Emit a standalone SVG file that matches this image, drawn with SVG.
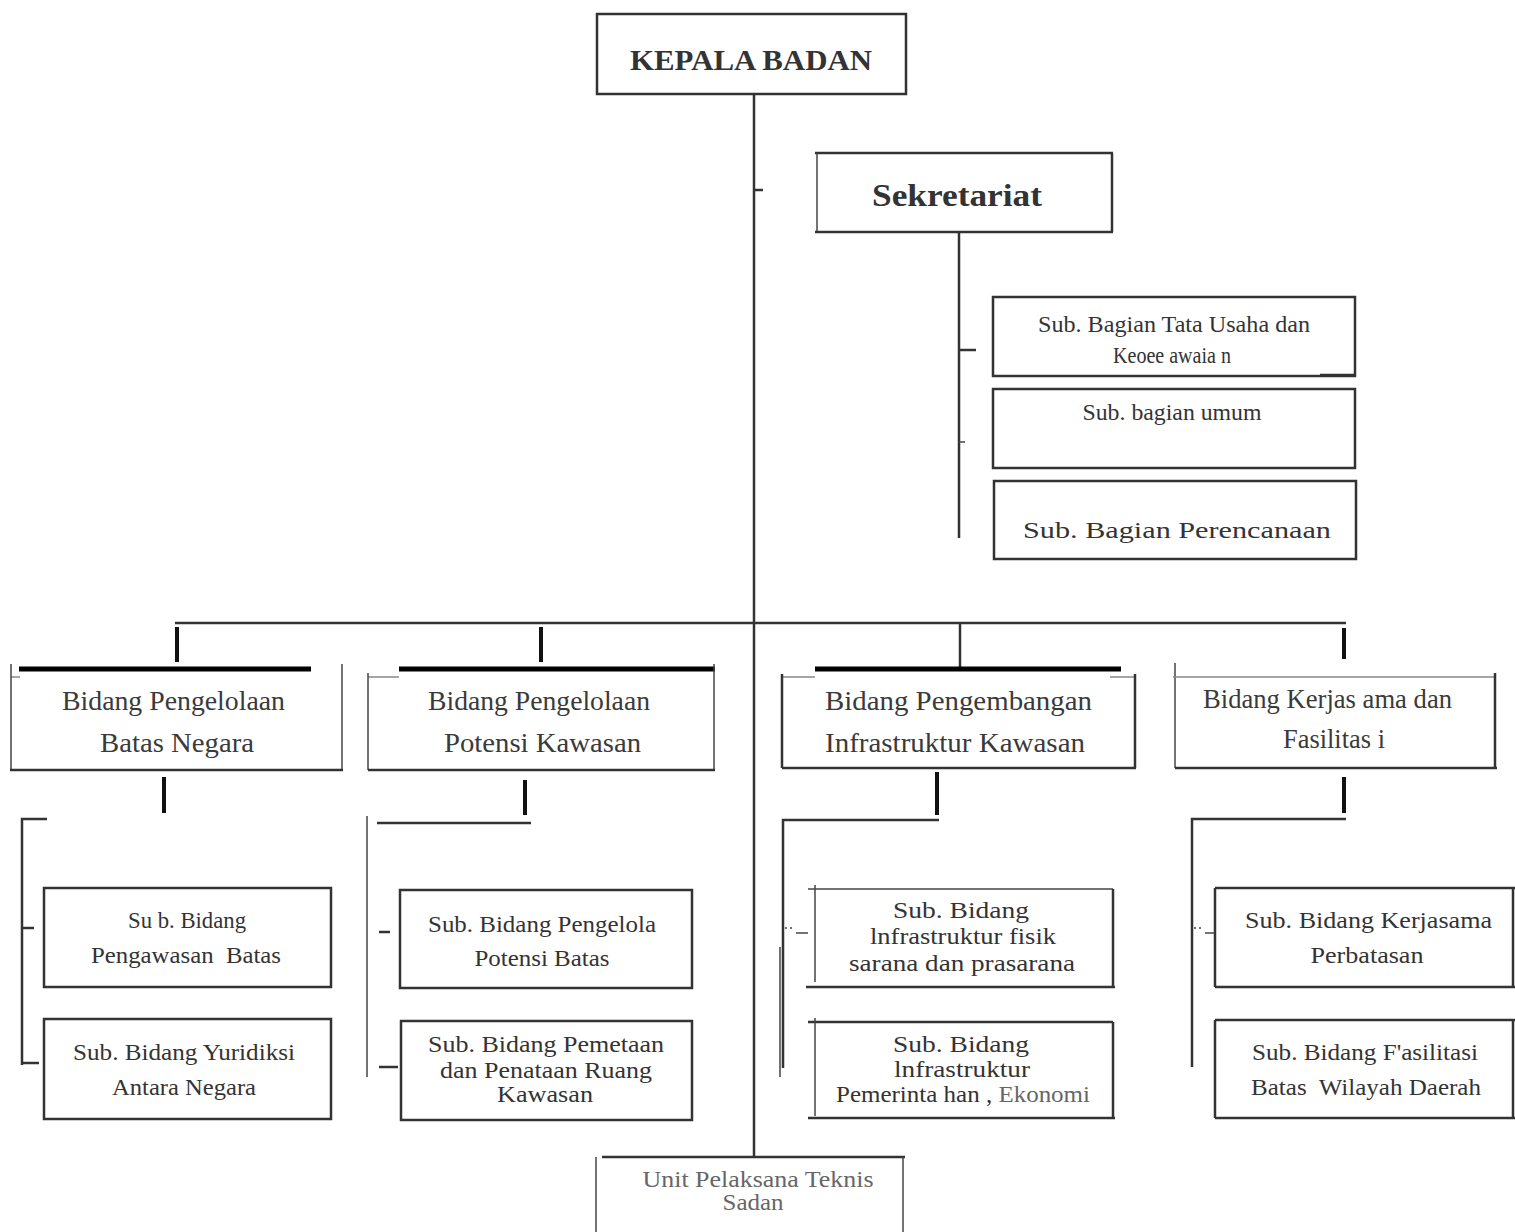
<svg xmlns="http://www.w3.org/2000/svg" width="1515" height="1232" viewBox="0 0 1515 1232">
<style>
.bg{fill:#fff}
.b{fill:none;stroke:#333;stroke-width:2.5}
.bt{fill:none;stroke:#444;stroke-width:1.5}
.g{fill:none;stroke:#888;stroke-width:1.5}
.k{fill:none;stroke:#000;stroke-width:5}
.c{fill:none;stroke:#333;stroke-width:2.5}
.ck{fill:none;stroke:#111;stroke-width:4}
.ct{fill:none;stroke:#444;stroke-width:1.5}
text{font-family:"Liberation Serif","Times New Roman",serif;fill:#333}
.h{font-weight:bold;fill:#333}
.bid{font-size:27px;fill:#3a3a3a}
.sub{font-size:24px;fill:#333}
.lt{fill:#666}
</style>
<rect class="bg" x="0" y="0" width="1515" height="1232"/>

<g id="connectors">
  <!-- main trunk -->
  <line class="c" x1="754" y1="95" x2="754" y2="1157" stroke-width="3"/>
  <line class="c" x1="754" y1="190" x2="763" y2="190"/>
  <!-- sekretariat branch -->
  <line class="c" x1="959" y1="232" x2="959" y2="538" stroke-width="2"/>
  <line class="c" x1="959" y1="350" x2="976" y2="350" stroke-width="4"/>
  <line class="ct" x1="959" y1="442" x2="965" y2="442"/>
  <!-- bus -->
  <line class="c" x1="175" y1="623" x2="1346" y2="623" stroke-width="3"/>
  <line class="ck" x1="177" y1="627" x2="177" y2="662"/>
  <line class="ck" x1="541" y1="627" x2="541" y2="662"/>
  <line class="c" x1="960" y1="623" x2="960" y2="667"/>
  <line class="ck" x1="1344" y1="628" x2="1344" y2="659"/>
  <!-- drops below bidang -->
  <line class="ck" x1="164" y1="777" x2="164" y2="813"/>
  <line class="ck" x1="525" y1="780" x2="525" y2="815"/>
  <line class="ck" x1="937" y1="772" x2="937" y2="815"/>
  <line class="ck" x1="1344" y1="777" x2="1344" y2="813"/>
  <!-- group 1 -->
  <polyline class="c" points="47,819 22,819 22,1065" stroke-width="2"/>
  <line class="c" x1="22" y1="928" x2="34" y2="928" stroke-width="3"/>
  <line class="c" x1="22" y1="1063" x2="39" y2="1063" stroke-width="5"/>
  <!-- group 2 -->
  <line class="ct" x1="367" y1="816" x2="367" y2="1077"/>
  <line class="c" x1="377" y1="823" x2="531" y2="823" stroke-width="4" stroke="#444"/>
  <line class="c" x1="379" y1="932" x2="390" y2="932" stroke-width="3" stroke="#111"/>
  <line class="c" x1="379" y1="1067" x2="398" y2="1067" stroke-width="5"/>
  <!-- group 3 -->
  <polyline class="c" points="939,820 783,820 783,1068" stroke-width="2"/>
  <line class="ct" x1="780" y1="947" x2="780" y2="1077"/>
  <line class="ct" x1="785" y1="928" x2="795" y2="928" stroke-dasharray="2,3"/>
  <line class="ct" x1="796" y1="933" x2="808" y2="933"/>
  <!-- group 4 -->
  <polyline class="c" points="1346,819 1192,819 1192,1067" stroke-width="2"/>
  <line class="ct" x1="1194" y1="928" x2="1204" y2="928" stroke-dasharray="2,3"/>
  <line class="ct" x1="1205" y1="933" x2="1216" y2="933"/>
</g>

<g id="kepala-badan">
  <rect class="b" x="597" y="14" width="309" height="80"/>
  <text class="h" x="751" y="70" font-size="30" text-anchor="middle" textLength="242" lengthAdjust="spacingAndGlyphs">KEPALA BADAN</text>
</g>

<g id="sekretariat">
  <line class="b" x1="815" y1="153" x2="1113" y2="153" stroke-width="3"/>
  <line class="bt" x1="817" y1="153" x2="817" y2="232"/>
  <line class="b" x1="1112" y1="153" x2="1112" y2="232"/>
  <line class="b" x1="815" y1="232" x2="1113" y2="232" stroke-width="3.5"/>
  <text class="h" x="957" y="206" font-size="31" text-anchor="middle" textLength="170" lengthAdjust="spacingAndGlyphs">Sekretariat</text>
</g>

<g id="sub-bagian-tu">
  <rect class="b" x="993" y="297" width="362" height="79" stroke-width="2"/>
  <line class="b" x1="1320" y1="375" x2="1355" y2="375" stroke-width="3"/>
  <text class="sub" x="1174" y="332" textLength="272" lengthAdjust="spacingAndGlyphs" text-anchor="middle">Sub. Bagian Tata Usaha dan</text>
  <text class="sub" x="1172" y="363" font-size="19" textLength="118" lengthAdjust="spacingAndGlyphs" text-anchor="middle">Keoee awaia n</text>
</g>

<g id="sub-bagian-umum">
  <rect class="b" x="993" y="389" width="362" height="79" stroke-width="2"/>
  <text class="sub" x="1172" y="420" textLength="179" lengthAdjust="spacingAndGlyphs" text-anchor="middle">Sub. bagian umum</text>
</g>

<g id="sub-bagian-perencanaan">
  <rect class="b" x="994" y="481" width="362" height="78" stroke-width="2"/>
  <text class="sub" x="1177" y="538" font-size="27" textLength="308" lengthAdjust="spacingAndGlyphs" text-anchor="middle">Sub. Bagian Perencanaan</text>
</g>

<g id="bidang-batas-negara">
  <line class="k" x1="19" y1="669" x2="311" y2="669"/>
  <line class="g" x1="11" y1="677" x2="20" y2="677"/>
  <line class="bt" x1="11" y1="664" x2="11" y2="770"/>
  <line class="bt" x1="342" y1="664" x2="342" y2="770"/>
  <line class="b" x1="10" y1="770" x2="343" y2="770"/>
  <text class="bid" x="62" y="710" textLength="223" lengthAdjust="spacingAndGlyphs">Bidang Pengelolaan</text>
  <text class="bid" x="100" y="752" textLength="154" lengthAdjust="spacingAndGlyphs">Batas Negara</text>
</g>

<g id="bidang-potensi-kawasan">
  <line class="k" x1="399" y1="669" x2="715" y2="669"/>
  <line class="g" x1="368" y1="677" x2="399" y2="677"/>
  <line class="bt" x1="368" y1="673" x2="368" y2="770"/>
  <line class="bt" x1="714" y1="664" x2="714" y2="770"/>
  <line class="b" x1="368" y1="770" x2="715" y2="770"/>
  <text class="bid" x="428" y="710" textLength="222" lengthAdjust="spacingAndGlyphs">Bidang Pengelolaan</text>
  <text class="bid" x="444" y="752" textLength="197" lengthAdjust="spacingAndGlyphs">Potensi Kawasan</text>
</g>

<g id="bidang-infrastruktur">
  <line class="k" x1="815" y1="669" x2="1121" y2="669"/>
  <line class="g" x1="782" y1="677" x2="815" y2="677"/>
  <line class="g" x1="1110" y1="677" x2="1135" y2="677"/>
  <line class="b" x1="782" y1="674" x2="782" y2="768"/>
  <line class="b" x1="1135" y1="674" x2="1135" y2="768"/>
  <line class="b" x1="782" y1="768" x2="1136" y2="768"/>
  <text class="bid" x="825" y="710" textLength="267" lengthAdjust="spacingAndGlyphs">Bidang Pengembangan</text>
  <text class="bid" x="825" y="752" textLength="260" lengthAdjust="spacingAndGlyphs">Infrastruktur Kawasan</text>
</g>

<g id="bidang-kerjasama">
  <line class="bt" x1="1175" y1="663" x2="1175" y2="768"/>
  <line class="g" x1="1173" y1="677" x2="1495" y2="677"/>
  <line class="b" x1="1495" y1="673" x2="1495" y2="768"/>
  <line class="b" x1="1175" y1="768" x2="1497" y2="768" stroke-width="2"/>
  <text class="bid" x="1203" y="708" textLength="249" lengthAdjust="spacingAndGlyphs">Bidang Kerjas ama dan</text>
  <text class="bid" x="1283" y="748" textLength="102" lengthAdjust="spacingAndGlyphs">Fasilitas i</text>
</g>

<g id="sub-pengawasan-batas">
  <rect class="b" x="44" y="888" width="287" height="99"/>
  <text class="sub" x="187" y="928" text-anchor="middle" textLength="118" lengthAdjust="spacingAndGlyphs">Su b. Bidang</text>
  <text class="sub" x="186" y="963" text-anchor="middle" xml:space="preserve" textLength="190" lengthAdjust="spacingAndGlyphs">Pengawasan  Batas</text>
</g>

<g id="sub-yuridiksi">
  <rect class="b" x="44" y="1019" width="287" height="100"/>
  <text class="sub" x="184" y="1060" text-anchor="middle" textLength="222" lengthAdjust="spacingAndGlyphs">Sub. Bidang Yuridiksi</text>
  <text class="sub" x="184" y="1095" text-anchor="middle" textLength="144" lengthAdjust="spacingAndGlyphs">Antara Negara</text>
</g>

<g id="sub-pengelola-potensi">
  <rect class="b" x="400" y="890" width="292" height="98"/>
  <text class="sub" x="542" y="932" text-anchor="middle" textLength="228" lengthAdjust="spacingAndGlyphs">Sub. Bidang Pengelola</text>
  <text class="sub" x="542" y="966" text-anchor="middle" textLength="135" lengthAdjust="spacingAndGlyphs">Potensi Batas</text>
</g>

<g id="sub-pemetaan">
  <rect class="b" x="401" y="1021" width="291" height="99"/>
  <text class="sub" x="546" y="1052" text-anchor="middle" textLength="236" lengthAdjust="spacingAndGlyphs">Sub. Bidang Pemetaan</text>
  <text class="sub" x="546" y="1078" text-anchor="middle" textLength="212" lengthAdjust="spacingAndGlyphs">dan Penataan Ruang</text>
  <text class="sub" x="545" y="1102" text-anchor="middle" textLength="96" lengthAdjust="spacingAndGlyphs">Kawasan</text>
</g>

<g id="sub-infrastruktur-fisik">
  <line class="bt" x1="808" y1="889" x2="1113" y2="889"/>
  <line class="bt" x1="815" y1="885" x2="815" y2="982"/>
  <line class="b" x1="1113" y1="889" x2="1113" y2="987"/>
  <line class="b" x1="806" y1="987" x2="1115" y2="987"/>
  <text class="sub" x="961" y="918" text-anchor="middle" textLength="136" lengthAdjust="spacingAndGlyphs">Sub. Bidang</text>
  <text class="sub" x="963" y="944" text-anchor="middle" textLength="186" lengthAdjust="spacingAndGlyphs">lnfrastruktur fisik</text>
  <text class="sub" x="962" y="971" text-anchor="middle" textLength="226" lengthAdjust="spacingAndGlyphs">sarana dan prasarana</text>
</g>

<g id="sub-infrastruktur-pemerintahan">
  <line class="b" x1="808" y1="1022" x2="1113" y2="1022" stroke-width="2"/>
  <line class="bt" x1="815" y1="1018" x2="815" y2="1116"/>
  <line class="b" x1="1113" y1="1022" x2="1113" y2="1118"/>
  <line class="b" x1="808" y1="1118" x2="1115" y2="1118"/>
  <text class="sub" x="961" y="1052" text-anchor="middle" textLength="136" lengthAdjust="spacingAndGlyphs">Sub. Bidang</text>
  <text class="sub" x="962" y="1077" text-anchor="middle" textLength="136" lengthAdjust="spacingAndGlyphs">lnfrastruktur</text>
  <text class="sub" x="836" y="1102" textLength="254" lengthAdjust="spacingAndGlyphs">Pemerinta han , <tspan class="lt">Ekonomi</tspan></text>
</g>

<g id="sub-kerjasama-perbatasan">
  <line class="b" x1="1215" y1="888" x2="1515" y2="888" stroke-width="3"/>
  <line class="b" x1="1215" y1="888" x2="1215" y2="987" stroke-width="2"/>
  <line class="b" x1="1215" y1="987" x2="1515" y2="987"/>
  <line class="b" x1="1513" y1="888" x2="1513" y2="987"/>
  <text class="sub" x="1245" y="928" textLength="247" lengthAdjust="spacingAndGlyphs">Sub. Bidang Kerjasama</text>
  <text class="sub" x="1367" y="963" text-anchor="middle" textLength="113" lengthAdjust="spacingAndGlyphs">Perbatasan</text>
</g>

<g id="sub-fasilitasi">
  <line class="b" x1="1215" y1="1020" x2="1515" y2="1020"/>
  <line class="b" x1="1215" y1="1020" x2="1215" y2="1118" stroke-width="2"/>
  <line class="b" x1="1215" y1="1118" x2="1515" y2="1118"/>
  <line class="b" x1="1513" y1="1020" x2="1513" y2="1118"/>
  <text class="sub" x="1252" y="1060" textLength="226" lengthAdjust="spacingAndGlyphs">Sub. Bidang F'asilitasi</text>
  <text class="sub" x="1251" y="1095" xml:space="preserve" textLength="230" lengthAdjust="spacingAndGlyphs">Batas  Wilayah Daerah</text>
</g>

<g id="upt">
  <line class="b" x1="602" y1="1157" x2="905" y2="1157" stroke-width="3"/>
  <line class="bt" x1="596" y1="1157" x2="596" y2="1232"/>
  <line class="bt" x1="903" y1="1157" x2="903" y2="1232"/>
  <text class="sub lt" x="758" y="1187" font-size="25" text-anchor="middle" textLength="231" lengthAdjust="spacingAndGlyphs">Unit Pelaksana Teknis</text>
  <text class="sub lt" x="753" y="1210" font-size="25" text-anchor="middle" textLength="61" lengthAdjust="spacingAndGlyphs">Sadan</text>
</g>
</svg>
